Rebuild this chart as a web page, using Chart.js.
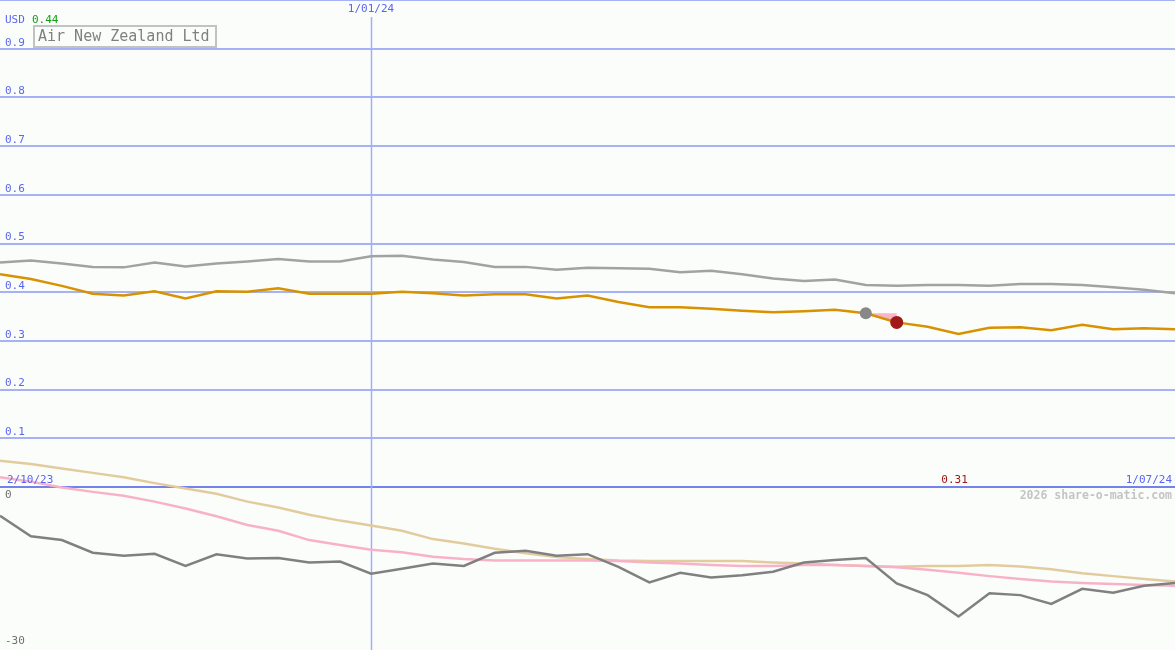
<!DOCTYPE html>
<html><head><meta charset="utf-8">
<script src="https://cdn.jsdelivr.net/npm/chart.js@4.4.1/dist/chart.umd.min.js"></script>
<style>html,body{margin:0;padding:0;background:#fbfdfb;overflow:hidden}canvas{display:block}</style>
</head><body>
<canvas id="c" width="1175" height="650"></canvas>
<script>
// ---- data (weekly points, index 0..38) ----
const price = [0.437,0.427,0.413,0.397,0.393,0.402,0.387,0.402,0.401,0.408,0.397,0.397,0.397,0.401,0.398,0.393,0.396,0.396,0.387,0.393,0.380,0.369,0.369,0.366,0.362,0.359,0.361,0.364,0.357,0.338,0.329,0.314,0.327,0.328,0.322,0.333,0.324,0.326,0.324];
const avgLine = [0.461,0.465,0.459,0.452,0.451,0.461,0.453,0.459,0.463,0.468,0.463,0.463,0.474,0.475,0.467,0.462,0.452,0.452,0.446,0.450,0.449,0.448,0.441,0.444,0.437,0.428,0.423,0.426,0.415,0.413,0.415,0.415,0.413,0.417,0.417,0.415,0.410,0.405,0.398];
const perfLine = [-5.9,-10.1,-10.9,-13.5,-14.1,-13.7,-16.2,-13.8,-14.7,-14.6,-15.5,-15.3,-17.8,-16.8,-15.7,-16.2,-13.5,-13.1,-14.1,-13.8,-16.4,-19.6,-17.6,-18.6,-18.1,-17.4,-15.5,-15.0,-14.6,-19.8,-22.2,-26.6,-21.8,-22.2,-24.0,-20.9,-21.7,-20.3,-19.7];
const slowLine = [5.4,4.7,3.8,2.9,2.0,0.8,-0.3,-1.4,-3.0,-4.2,-5.7,-6.9,-7.9,-9.0,-10.7,-11.6,-12.7,-13.6,-14.4,-14.8,-15.1,-15.2,-15.2,-15.2,-15.2,-15.5,-15.7,-16.0,-16.2,-16.4,-16.2,-16.2,-16.0,-16.3,-16.9,-17.7,-18.3,-18.9,-19.4];
const fastLine = [2.0,1.1,-0.1,-1.0,-1.8,-3.0,-4.4,-6.0,-7.8,-9.0,-10.9,-11.9,-12.9,-13.4,-14.3,-14.8,-15.1,-15.1,-15.1,-15.1,-15.2,-15.5,-15.7,-16.0,-16.2,-16.2,-16.0,-16.0,-16.2,-16.5,-17.0,-17.6,-18.3,-18.9,-19.4,-19.7,-19.9,-20.1,-20.3];
const priceTicks = [0,0.1,0.2,0.3,0.4,0.5,0.6,0.7,0.8,0.9,1.0];
const perfTicks = [0,-30];
const dateLabels = ['2/10/23','1/01/24','1/07/24'];
const dateIndex = [0,12,38];
const markFrom = 28, markTo = 29;
const title = 'Air New Zealand Ltd';
const currency = 'USD';
const lastLabel = '0.44';
const credit = '2026 share-o-matic.com';

const pts = arr => arr.map((v,i)=>({x:i,y:v}));
const minIdx = price.indexOf(Math.min(...price));
const FONT = '"DejaVu Sans Mono", "Liberation Mono", monospace';

const deco = {
  id:'deco',
  beforeDraw(chart){
    const c=chart.ctx; c.save(); c.fillStyle='#fbfdfb'; c.fillRect(0,0,chart.width,chart.height); c.restore();
  },
  beforeDatasetsDraw(chart){
    const c=chart.ctx, xs=chart.scales.x, a=chart.chartArea;
    c.save(); c.strokeStyle='#9eaefc'; c.lineWidth=1.5;
    const px=Math.round(xs.getPixelForValue(dateIndex[1]))+0.5;
    c.beginPath(); c.moveTo(px,a.top+17); c.lineTo(px,a.bottom); c.stroke();
    c.restore();
  },
  afterDatasetsDraw(chart){
    const c=chart.ctx, xs=chart.scales.x, ys=chart.scales.y, y2=chart.scales.y2, a=chart.chartArea;
    c.save();
    c.font='11px '+FONT; c.textBaseline='middle';
    // price tick labels
    c.fillStyle='#5a66f0'; c.textAlign='left';
    priceTicks.forEach(v=>{ if(v>0 && v<1){ c.fillText(v.toFixed(1),5,ys.getPixelForValue(v)-6); }});
    // perf tick labels
    c.fillStyle='#707070';
    perfTicks.forEach(v=>{ c.fillText(String(v),5,y2.getPixelForValue(v)+8); });
    // header
    c.fillStyle='#5a66f0'; c.fillText(currency,5,20);
    c.fillStyle='#10a010'; c.fillText(lastLabel,32,20);
    // date labels
    c.fillStyle='#5a66f0';
    const zeroY=ys.getPixelForValue(0);
    c.textAlign='left'; c.fillText(dateLabels[0],xs.getPixelForValue(dateIndex[0])+7,zeroY-7);
    c.textAlign='center'; c.fillText(dateLabels[1],xs.getPixelForValue(dateIndex[1]),9);
    c.textAlign='right'; c.fillText(dateLabels[2],xs.getPixelForValue(dateIndex[2])-3,zeroY-7);
    // min label
    c.fillStyle='#a01818'; c.textAlign='center';
    c.fillText(price[minIdx].toFixed(2),xs.getPixelForValue(minIdx)-4,zeroY-7);
    // credit
    c.fillStyle='#c4c4c4'; c.textAlign='right'; c.font='bold 11.5px '+FONT;
    c.fillText(credit,a.right-3,zeroY+9);
    // title box
    c.font='15px '+FONT; c.textAlign='left';
    c.fillStyle='#fbfdfb'; c.fillRect(33,25,184,23);
    c.strokeStyle='#c2c2c2'; c.lineWidth=2; c.strokeRect(34,26,182,21);
    c.fillStyle='#808080'; c.fillText(title,38,37);
    c.restore();
  }
};

new Chart(document.getElementById('c'),{
  type:'line',
  data:{datasets:[
    {data:pts(slowLine),yAxisID:'y2',borderColor:'#e2cc9e',borderWidth:2.5,pointRadius:0,tension:0,order:9},
    {data:pts(fastLine),yAxisID:'y2',borderColor:'#f8b2c8',borderWidth:2.5,pointRadius:0,tension:0,order:8},
    {data:pts(perfLine),yAxisID:'y2',borderColor:'#808080',borderWidth:2.5,pointRadius:0,tension:0,order:7},
    {data:pts(avgLine),yAxisID:'y',borderColor:'#a2a2a2',borderWidth:2.5,pointRadius:0,tension:0,order:6},
    {data:pts(price),yAxisID:'y',borderColor:'#d89200',borderWidth:2.5,pointRadius:0,tension:0,order:5},
    {data:[{x:markFrom,y:price[markFrom]},{x:markTo,y:price[markFrom]},{x:markTo,y:price[markTo]},{x:markFrom,y:price[markFrom]}],
     yAxisID:'y',borderWidth:0,borderColor:'rgba(0,0,0,0)',backgroundColor:'#f8b4c8',fill:'shape',pointRadius:0,tension:0,order:4},
    {data:pts(price),yAxisID:'y',borderColor:'#d89200',borderWidth:2.5,pointRadius:0,tension:0,order:3,
     segment:{borderColor:ctx=>(ctx.p0DataIndex===markFrom)?'#d89200':'rgba(0,0,0,0)'}},
    {data:[{x:markFrom,y:price[markFrom]}],yAxisID:'y',showLine:false,pointRadius:6,pointBackgroundColor:'#888888',pointBorderWidth:0,order:2},
    {data:[{x:markTo,y:price[markTo]}],yAxisID:'y',showLine:false,pointRadius:6.5,pointBackgroundColor:'#a01818',pointBorderWidth:0,order:1}
  ]},
  options:{
    responsive:false, animation:false, devicePixelRatio:1,
    layout:{padding:0,autoPadding:false},
    plugins:{legend:{display:false},tooltip:{enabled:false}},
    scales:{
      x:{type:'linear',min:0,max:price.length-1,display:false},
      y:{type:'linear',position:'left',min:-0.3347,max:1.0,
         afterBuildTicks:s=>{s.ticks=priceTicks.map(v=>({value:v}));},
         afterFit:s=>{s.width=0;},
         ticks:{display:false},
         border:{display:false},
         grid:{drawTicks:false,lineWidth:2,color:ctx=>ctx.tick && ctx.tick.value===0?'#7482ec':'#a6b2f4'}},
      y2:{type:'linear',position:'left',min:-33.47,max:100,
         afterFit:s=>{s.width=0;},
         ticks:{display:false},border:{display:false},grid:{display:false}}
    }
  },
  plugins:[deco]
});
</script>
</body></html>
